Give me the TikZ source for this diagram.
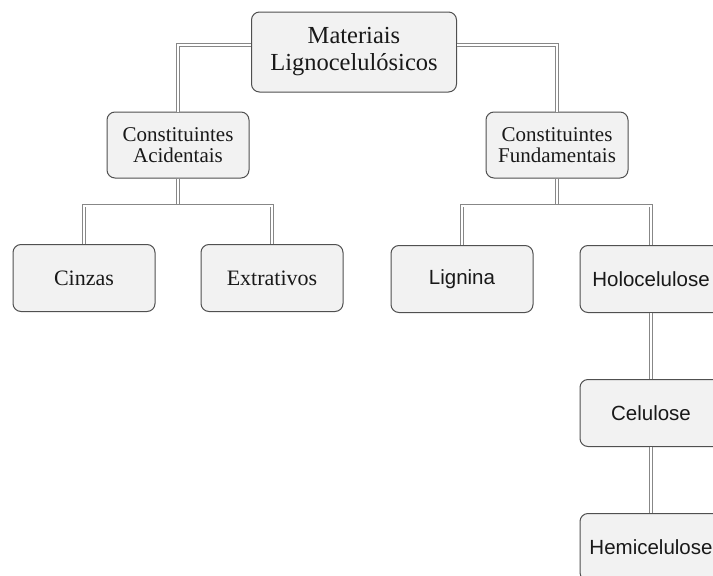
\documentclass[tikz,border=0pt]{standalone}
\usepackage{fontspec}
\setmainfont{Liberation Serif}
\setsansfont{Liberation Sans}
\usepackage{tikz}
\usetikzlibrary{positioning,calc}
\definecolor{boxGray}{RGB}{242,242,242}
\definecolor{edgeGray}{RGB}{80,80,80}
\definecolor{linkGray}{RGB}{135,135,135}

\tikzset{
  box/.style={draw=edgeGray, fill=boxGray, rounded corners=8pt, line width=1pt,
              minimum width=142pt, minimum height=67pt, align=center,
              inner sep=2pt, text=black!90},
  serifbox/.style={box, font=\fontsize{22}{24}\selectfont},
  sansbox/.style={box, font=\sffamily\fontsize{20.5}{24}\selectfont},
  dbl/.style={draw=linkGray, double=white, double distance=2pt, line width=0.9pt}
}

\begin{document}
\begin{tikzpicture}[x=1pt,y=-1pt]
        \useasboundingbox (0,0) rectangle (713,576);
        \clip (0,0) rectangle (713,576);
        % root
        \node[box, minimum width=205pt, minimum height=80pt,
              font=\fontsize{24.5}{27}\selectfont] (top) at (354,52)
          {Materiais\\Lignocelulósicos};
        % second level
        \node[box, minimum height=66pt, font=\fontsize{21}{21}\selectfont] (acid) at (178,145)
          {Constituintes\\Acidentais};
        \node[box, minimum height=66pt, font=\fontsize{21}{21}\selectfont] (fund) at (557,145)
          {Constituintes\\Fundamentais};
        % leaves
        \node[serifbox] (cinzas) at (84,278) {Cinzas};
        \node[serifbox] (extrat) at (272,278) {Extrativos};
        \node[sansbox] (lignina) at (462,279) {Lignina};
        \node[sansbox] (holo) at (651,279) {Holocelulose};
        \node[sansbox] (celu) at (651,413) {Celulose};
        \node[sansbox] (hemi) at (651,547) {Hemicelulose};
        % links from root
        \draw[dbl] ([yshift=7pt]top.west) -| (acid.north);
        \draw[dbl] ([yshift=7pt]top.east) -| (fund.north);
        % links to leaves
        \draw[dbl] (acid.south) -- ++(0,27) coordinate (acidbar);
        \draw[dbl] (cinzas.north) |- (acidbar) -| (extrat.north);
        \draw[dbl] (fund.south) -- ++(0,27) coordinate (fundbar);
        \draw[dbl] (lignina.north) |- (fundbar) -| (holo.north);
        \draw[dbl] (holo) -- (celu);
        \draw[dbl] (celu) -- (hemi);
      \end{tikzpicture}
\end{document}
